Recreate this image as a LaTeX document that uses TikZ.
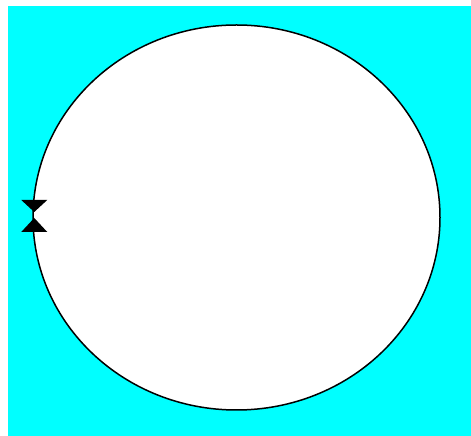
\documentclass[tikz,border=0pt]{standalone}
\usetikzlibrary{shapes.geometric,calc}
\definecolor{bgcyan}{RGB}{0,255,255}
\tikzset{
  ring/.style={draw=black, fill=white, line width=1.5pt, ellipse, minimum width=407pt, minimum height=385pt, inner sep=0pt},
  tip/.style={fill=black, draw=none}
}
\begin{document}
\begin{tikzpicture}[x=1pt,y=1pt]
\useasboundingbox (0,0) rectangle (471,436);
\fill[white] (0,0) rectangle (471,436);
\fill[bgcyan] (8,0) rectangle (471,430);
\node[ring] (loop) at (236.5,218.5) {};
\coordinate (join) at ($(loop.west)+(2,0)$);
\fill[tip] ($(join)+(-13,17.5)$) -- ($(join)+(13,17.5)$) -- ($(join)+(0,5.5)$) -- cycle;
\fill[tip] ($(join)+(-13,-14.5)$) -- ($(join)+(13,-14.5)$) -- ($(join)+(0,-0.5)$) -- cycle;
\end{tikzpicture}
\end{document}
